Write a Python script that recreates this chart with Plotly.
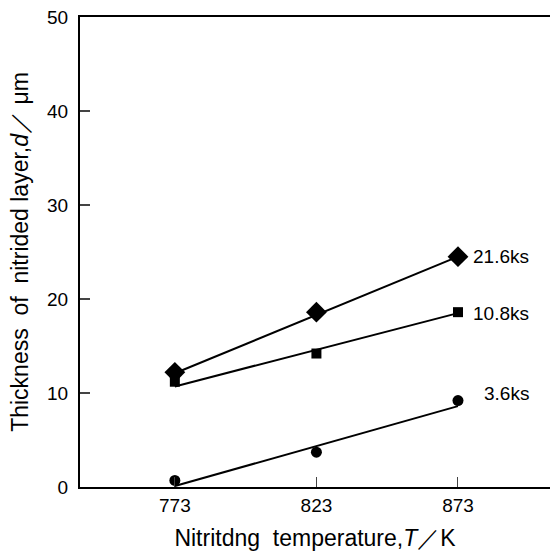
import plotly.graph_objects as go

temps = [773, 823, 873]
series_names = ["21.6ks", "10.8ks", "3.6ks"]
d_216 = [12.2, 18.6, 24.5]
d_108 = [11.2, 14.2, 18.6]
d_36 = [0.7, 3.7, 9.2]
fit_216 = [12.1, 24.5]
fit_108 = [10.7, 18.5]
fit_36 = [0.1, 8.6]
fit_x = [773, 873]
y_ticks = [0, 10, 20, 30, 40, 50]

FONT = "Liberation Sans, Arial, Helvetica, sans-serif"
fig = go.Figure()

series = [
    (d_216, fit_216, "diamond", 16),
    (d_108, fit_108, "square", 10),
    (d_36, fit_36, "circle", 11),
]
for name, (pts, fit, sym, sz) in zip(series_names, series):
    fig.add_trace(go.Scatter(x=fit_x, y=fit, mode="lines",
                             line=dict(color="black", width=2), showlegend=False, hoverinfo="skip"))
    fig.add_trace(go.Scatter(x=temps, y=pts, mode="markers", name=name,
                             marker=dict(symbol=sym, size=sz, color="black"), showlegend=False))

label_y = [24.5, 18.5, 10.0]
label_shift = [13, 13, 24]
for name, ly, sh in zip(series_names, label_y, label_shift):
    fig.add_annotation(x=873, y=ly, text=name, showarrow=False, xanchor="left", yanchor="middle",
                       xshift=sh, font=dict(family=FONT, size=19, color="black"))

fig.update_layout(
    width=550, height=556,
    margin=dict(l=80, r=0, t=17, b=69),
    paper_bgcolor="white", plot_bgcolor="white",
    font=dict(family=FONT, size=19, color="black"),
    xaxis=dict(range=[739.5, 905.5], tickvals=temps, ticks="inside", ticklen=10, tickwidth=1,
               showline=True, linecolor="black", linewidth=2, mirror=True, showgrid=False,
               zeroline=False, tickfont=dict(size=19),
               title=dict(text="Nitritdng  temperature,<i>T</i>／K", font=dict(size=23), standoff=15)),
    yaxis=dict(range=[0, 50], tickvals=y_ticks, ticks="inside", ticklen=10, tickwidth=1.5,
               showline=True, linecolor="black", linewidth=2, showgrid=False, zeroline=False,
               tickfont=dict(size=19), ticklabelstandoff=6,
               title=dict(text="Thickness  of  nitrided layer,<i>d</i>／ μm", font=dict(size=23), standoff=12)),
)
fig.write_html("out.html")
